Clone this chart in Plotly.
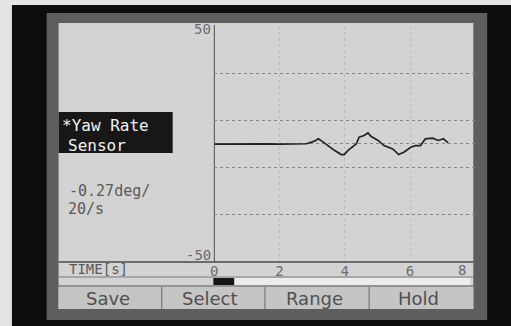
import plotly.graph_objects as go

time_s = [0, 0.4, 0.8, 1.2, 1.6, 2.0, 2.4, 2.83, 3.07, 3.19, 3.34, 3.50, 3.68, 3.89, 3.98,
          4.10, 4.26, 4.35, 4.44, 4.59, 4.71, 4.80, 5.02, 5.20, 5.47, 5.65, 5.81, 6.02,
          6.17, 6.32, 6.47, 6.69, 6.87, 7.02, 7.17]
yaw_rate = [-0.3, -0.2, -0.4, -0.3, -0.2, -0.3, -0.2, -0.1, 1.0, 2.0, 0.6, -1.1, -2.9, -4.7, -4.7,
            -2.9, -0.9, -0.2, 2.7, 3.4, 4.5, 3.1, 1.3, -0.9, -2.3, -4.7, -3.7, -1.6,
            -0.9, -0.9, 2.0, 2.3, 1.3, 2.0, 0.3]
y_limits = [-50, 50]
y_limit_text = ["-50", "50"]
grid_levels = [-30, -10, 0, 10, 30]
x_ticks = [0, 2, 4, 6]
x_tick_text = ["0", "2", "4", "6"]
x_last_tick = 8
x_last_text = "8"
sensor_name = ["*Yaw Rate", "Sensor"]
reading = ["-0.27deg/", "20/s"]
time_label = "TIME[s]"
buttons = ["Save", "Select", "Range", "Hold"]

W, H = 511, 326


def px(x):
    return x / W


def py(y):
    return 1 - y / H


shapes = []


def rect(x0, y0, x1, y1, fill):
    shapes.append(dict(type="rect", xref="paper", yref="paper", x0=px(x0), x1=px(x1),
                       y0=py(y1), y1=py(y0), fillcolor=fill, line=dict(width=0), layer="below"))


def hline(x0, x1, y, color, w):
    shapes.append(dict(type="line", xref="paper", yref="paper", x0=px(x0), x1=px(x1),
                       y0=py(y), y1=py(y), line=dict(color=color, width=w), layer="below"))


def vline(x, y0, y1, color, w):
    shapes.append(dict(type="line", xref="paper", yref="paper", x0=px(x), x1=px(x),
                       y0=py(y0), y1=py(y1), line=dict(color=color, width=w), layer="below"))


# bezel, frame and screen
rect(8, 5, 511, 326, "#0d0d0d")
rect(43, 13, 487, 320, "#5e5e5e")
rect(55, 23, 473, 309, "#d3d3d3")
rect(55, 287, 473, 309, "#c5c5c5")
# progress bar
rect(211, 278, 470, 285, "#ececec")
rect(211, 278, 232, 285, "#141414")
# separators
hline(55, 473, 262, "#4a4a4a", 1.5)
hline(55, 473, 277, "#7a7a7a", 1)
hline(55, 473, 286, "#555555", 1.2)
for bx in [159, 263, 368]:
    vline(bx, 287, 309, "#666666", 1)
# y axis line
vline(212, 25, 262, "#505050", 1)
# sensor label box
rect(55, 112, 170, 153, "#171717")

mono = "DejaVu Sans Mono"
annotations = []


def text(s, x, y, size, color, family=mono, xanchor="left"):
    annotations.append(dict(text=s, x=px(x), y=py(y), xref="paper", yref="paper",
                            xanchor=xanchor, yanchor="middle", showarrow=False,
                            font=dict(family=family, size=size, color=color)))


text(sensor_name[0], 56, 125, 16, "#f2f2f2")
text(sensor_name[1], 62, 145, 16, "#f2f2f2")
text(reading[0], 63, 191, 15, "#5a5a5a")
text(reading[1], 62, 209, 15, "#5a5a5a")
text(time_label, 63, 269, 14, "#5a5a5a")
for name, cx in zip(buttons, [105, 208, 313, 418]):
    text(name, cx, 298, 18, "#505050", family="DejaVu Sans", xanchor="center")

tick_font = dict(family=mono, size=14, color="#6c6c6c")

# y limit labels placed through the y scale, just inside the range
for val, lab, shift in zip(y_limits, y_limit_text, [6, -3]):
    annotations.append(dict(text=lab, x=0, y=val, xref="x", yref="y", xanchor="right",
                            yanchor="middle", xshift=-1, yshift=shift, showarrow=False,
                            font=tick_font))
# last time tick label (right-aligned at the edge of the screen)
annotations.append(dict(text=x_last_text, x=x_last_tick, y=py(270), xref="x", yref="paper",
                        xanchor="right", yanchor="middle", xshift=-7, showarrow=False,
                        font=tick_font))

fig = go.Figure(go.Scatter(x=time_s, y=yaw_rate, mode="lines",
                           line=dict(color="#222222", width=1.7), hoverinfo="skip"))

fig.update_layout(
    width=W, height=H, margin=dict(l=0, r=0, t=0, b=0),
    paper_bgcolor="#e4e4e4", plot_bgcolor="rgba(0,0,0,0)",
    showlegend=False, shapes=shapes, annotations=annotations,
    xaxis=dict(domain=[px(212), px(475)], range=[0, 8], tickmode="array",
               tickvals=x_ticks, ticktext=x_tick_text, showgrid=True,
               gridcolor="#bcbcbc", griddash="dot", gridwidth=1, zeroline=False,
               showline=False, ticks="", tickfont=tick_font, fixedrange=True),
    yaxis=dict(domain=[py(261), py(26)], range=[-50, 50], tickmode="array",
               tickvals=grid_levels, showticklabels=False, showgrid=True,
               gridcolor="#858585", griddash="dot", gridwidth=1,
               zeroline=False, showline=False, ticks="", fixedrange=True),
)

fig.write_html(
    "out.html",
    config={"displayModeBar": False},
    post_script="document.body.style.margin='0';document.body.style.overflow='hidden';",
)
